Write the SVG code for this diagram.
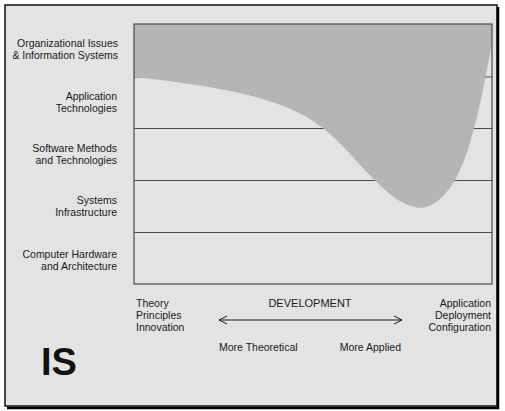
<svg xmlns="http://www.w3.org/2000/svg" width="505" height="411" viewBox="0 0 505 411">
<defs>
<style>
.lbl{font-family:"Liberation Sans",Arial,sans-serif;font-size:10.5px;fill:#1a1a1a}
.r{text-anchor:end}
.ln{stroke:#4a4a4a;stroke-width:1.2;fill:none}
</style>
<marker id="ah" markerWidth="10" markerHeight="10" refX="9" refY="5" orient="auto" markerUnits="userSpaceOnUse">
<path d="M1,1 L9,5 L1,9" fill="none" stroke="#1a1a1a" stroke-width="1"/>
</marker>
</defs>
<rect x="0" y="0" width="505" height="411" fill="#ffffff"/>
<rect x="5" y="5" width="492" height="401" fill="#e3e3e3" stroke="#111" stroke-width="1.5"/>
<path d="M498,7 V408 H7" fill="none" stroke="#000" stroke-width="2.5"/>
<g id="chart">
<line class="ln" x1="134" y1="77" x2="492" y2="77"/>
<line class="ln" x1="134" y1="128.5" x2="492" y2="128.5"/>
<line class="ln" x1="134" y1="180.5" x2="492" y2="180.5"/>
<line class="ln" x1="134" y1="232.5" x2="492" y2="232.5"/>
<path d="M134,24 H492 V43 C485,80 473,150 455,180 C440,205 425,210 415,207 C395,203 380,185 360,165 C340,142 320,122 295,111 C260,94 200,84 134,77 Z" fill="#b5b5b5"/>
<rect class="ln" x="134" y="24" width="358" height="260"/>
</g>
<g id="labels">
<text class="lbl r" x="118" y="47">Organizational Issues</text>
<text class="lbl r" x="118" y="59">&amp; Information Systems</text>
<text class="lbl r" x="117" y="100">Application</text>
<text class="lbl r" x="117" y="112">Technologies</text>
<text class="lbl r" x="117" y="152">Software Methods</text>
<text class="lbl r" x="117" y="164">and Technologies</text>
<text class="lbl r" x="117" y="204">Systems</text>
<text class="lbl r" x="117" y="216">Infrastructure</text>
<text class="lbl r" x="117" y="258">Computer Hardware</text>
<text class="lbl r" x="117" y="270">and Architecture</text>
</g>
<g id="axis">
<text class="lbl" x="136" y="307">Theory</text>
<text class="lbl" x="136" y="319">Principles</text>
<text class="lbl" x="136" y="331">Innovation</text>
<text class="lbl r" x="491" y="307">Application</text>
<text class="lbl r" x="491" y="319">Deployment</text>
<text class="lbl r" x="491" y="331">Configuration</text>
<text class="lbl" x="310" y="307" text-anchor="middle" style="font-size:11px">DEVELOPMENT</text>
<text class="lbl" x="219" y="351">More Theoretical</text>
<text class="lbl r" x="401" y="351">More Applied</text>
</g>
<g id="connectors">
<line x1="310" y1="320" x2="402" y2="320" stroke="#1a1a1a" stroke-width="1" marker-end="url(#ah)"/>
<line x1="310" y1="320" x2="219" y2="320" stroke="#1a1a1a" stroke-width="1" marker-end="url(#ah)"/>
</g>
<text x="41" y="375" style="font-family:'Liberation Sans',Arial,sans-serif;font-size:38px;font-weight:bold;fill:#111">IS</text>
</svg>
